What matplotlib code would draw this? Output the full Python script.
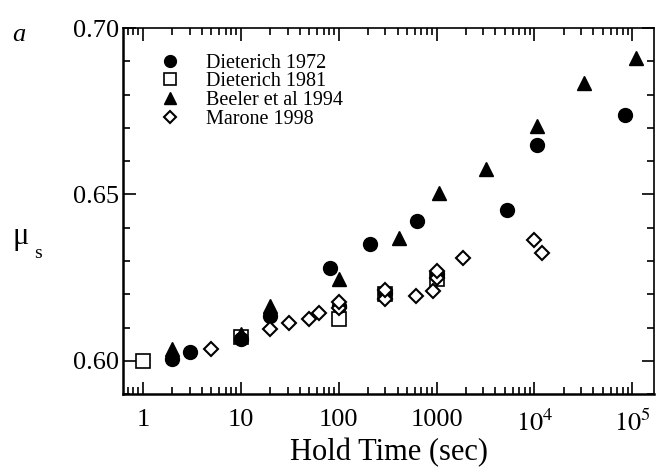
import matplotlib
matplotlib.use('Agg')
import matplotlib.pyplot as plt
from matplotlib.ticker import LogLocator, MultipleLocator, FixedLocator, FixedFormatter, NullFormatter

plt.rcParams['font.family'] = ['Liberation Serif', 'DejaVu Serif']
plt.rcParams['mathtext.fontset'] = 'stix'

# Dieterich 1972 (filled circles)
d72_t = [2, 3, 10, 20, 81, 100, 207, 300, 630, 1000, 5200, 10500, 85000]
d72_mu = [0.6006, 0.6025, 0.6065, 0.6135, 0.628, 0.6165, 0.635, 0.6205, 0.642, 0.626, 0.6453, 0.665, 0.674]

# Dieterich 1981 (open squares)
d81_t = [1, 10, 100, 300, 1000]
d81_mu = [0.600, 0.607, 0.6125, 0.620, 0.6245]

# Beeler et al 1994 (filled triangles)
b94_t = [2, 10, 20, 100, 410, 1050, 3200, 10500, 32000, 110000]
b94_mu = [0.6035, 0.608, 0.6165, 0.6245, 0.637, 0.6505, 0.6575, 0.6705, 0.6835, 0.691]

# Marone 1998 (open diamonds)
m98_t = [5, 20, 31, 50, 63, 100, 100, 300, 300, 620, 930, 1000, 1000, 1850, 10000, 12000]
m98_mu = [0.6036, 0.6096, 0.6114, 0.6126, 0.6144, 0.616, 0.6177, 0.6186, 0.6213,
          0.6195, 0.621, 0.625, 0.627, 0.631, 0.6363, 0.6324]

xticks = [1, 10, 100, 1000, 1e4, 1e5]
xticklabels = ['1', '10', '100', '1000', '$10^4$', '$10^5$']

fig = plt.figure(figsize=(6.56, 4.68), dpi=100)
ax = fig.add_axes([0.1875, 0.158, 0.81, 0.782])

ax.plot(d72_t, d72_mu, 'o', color='black', ms=10, label='Dieterich 1972', zorder=3)
ax.plot(d81_t, d81_mu, 's', mfc='white', mec='black', mew=1.2, ms=9.5, label='Dieterich 1981', zorder=2)
ax.plot(b94_t, b94_mu, '^', color='black', ms=10, label='Beeler et al 1994', zorder=3)
ax.plot(m98_t, m98_mu, 'D', mfc='white', mec='black', mew=1.5, ms=7.5, label='Marone 1998', zorder=4)

ax.set_xscale('log')
ax.set_xlim(0.625, 1.68e5)
ax.set_ylim(0.590, 0.700)

ax.xaxis.set_major_locator(FixedLocator(xticks))
ax.xaxis.set_major_formatter(FixedFormatter(xticklabels))
ax.xaxis.set_minor_locator(LogLocator(base=10, subs=range(2, 10), numticks=20))
ax.xaxis.set_minor_formatter(NullFormatter())
ax.yaxis.set_major_locator(FixedLocator([0.60, 0.65, 0.70]))
ax.yaxis.set_major_formatter(FixedFormatter(['0.60', '0.65', '0.70']))
ax.yaxis.set_minor_locator(MultipleLocator(0.01))

ax.tick_params(which='both', direction='in', top=True, right=True, width=1.2)
ax.tick_params(which='major', length=9, labelsize=19)
ax.tick_params(which='minor', length=5)
ax.tick_params(axis='x', which='major', pad=11)
ax.tick_params(axis='y', which='major', pad=3)
for s in ax.spines.values():
    s.set_linewidth(1.2)
ax.spines['left'].set_linewidth(1.8)
ax.spines['bottom'].set_linewidth(1.8)

ax.set_xlabel('Hold Time (sec)', fontsize=22, labelpad=2)

fig.text(0.032, 0.478, 'μ', fontsize=22, ha='center', va='baseline')
fig.text(0.052, 0.448, 's', fontsize=14, ha='left', va='baseline')
fig.text(0.018, 0.925, 'a', fontsize=19, style='italic', ha='left', va='center')

ax.legend(loc='upper left', bbox_to_anchor=(0.05, 0.952), frameon=False, fontsize=14.5,
          labelspacing=-0.02, handletextpad=1.2, handlelength=1.2, borderaxespad=0,
          markerscale=0.85)

fig.savefig('out.png', dpi=100)
